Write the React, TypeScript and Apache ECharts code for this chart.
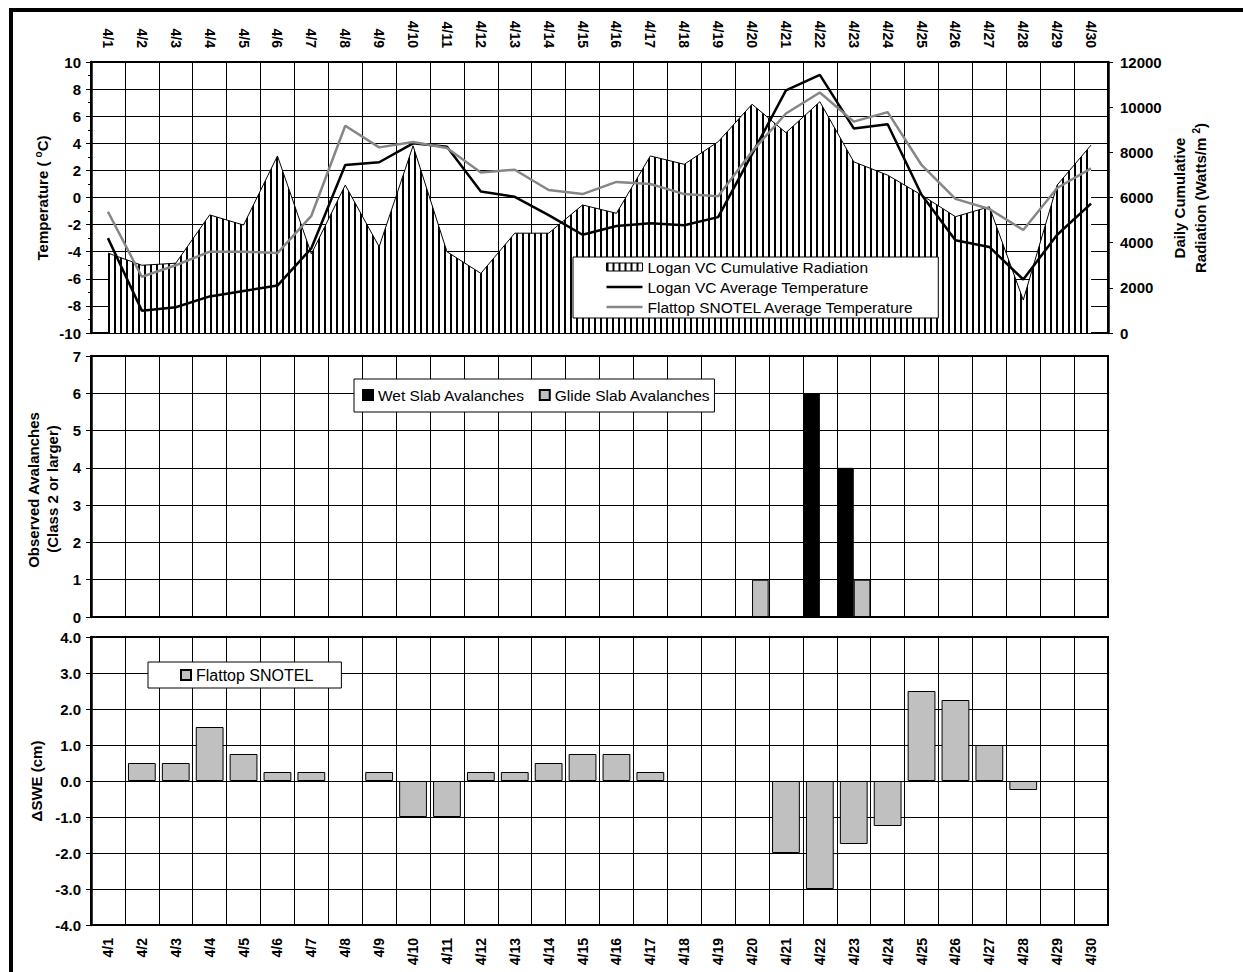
import React, { useEffect, useRef } from "react";
import * as echarts from "echarts";

const days = [
  "4/1", "4/2", "4/3", "4/4", "4/5", "4/6", "4/7", "4/8", "4/9", "4/10",
  "4/11", "4/12", "4/13", "4/14", "4/15", "4/16", "4/17", "4/18", "4/19", "4/20",
  "4/21", "4/22", "4/23", "4/24", "4/25", "4/26", "4/27", "4/28", "4/29", "4/30",
];

// Logan VC cumulative radiation (Watts/m^2), right axis of top panel
const radiation = [
  3540, 3000, 3090, 5230, 4780, 7840, 3500, 6550, 3820, 8290,
  3600, 2640, 4420, 4420, 5670, 5300, 7840, 7470, 8470, 10130,
  8870, 10240, 7580, 6990, 6110, 5150, 5590, 1460, 6550, 8320,
];

// Logan VC average temperature (°C)
const loganTemp = [
  -3.0, -8.35, -8.1, -7.3, -6.9, -6.5, -3.75, 2.4, 2.6, 4.0,
  3.75, 0.45, 0.05, -1.3, -2.75, -2.1, -1.9, -2.05, -1.45, 3.2,
  7.9, 9.05, 5.1, 5.4, 0.2, -3.15, -3.65, -6.05, -2.75, -0.45,
];

// Flattop SNOTEL average temperature (°C)
const flattopTemp = [
  -1.05, -5.85, -5.0, -4.0, -4.0, -4.1, -1.35, 5.3, 3.7, 4.1,
  3.65, 1.85, 2.05, 0.55, 0.25, 1.15, 1.0, 0.25, 0.1, 3.4,
  6.2, 7.75, 5.6, 6.3, 2.4, -0.1, -0.85, -2.4, 0.7, 2.15,
];

// Observed avalanches (class 2 or larger)
const wetSlab = [
  0, 0, 0, 0, 0, 0, 0, 0, 0, 0,
  0, 0, 0, 0, 0, 0, 0, 0, 0, 0,
  0, 6, 4, 0, 0, 0, 0, 0, 0, 0,
];
const glideSlab = [
  0, 0, 0, 0, 0, 0, 0, 0, 0, 0,
  0, 0, 0, 0, 0, 0, 0, 0, 0, 1,
  0, 0, 1, 0, 0, 0, 0, 0, 0, 0,
];

// Flattop SNOTEL ΔSWE (cm)
const deltaSWE = [
  0, 0.5, 0.5, 1.5, 0.75, 0.25, 0.25, 0, 0.25, -1,
  -1, 0.25, 0.25, 0.5, 0.75, 0.75, 0.25, 0, 0, 0,
  -2, -3, -1.75, -1.25, 2.5, 2.25, 1, -0.25, 0, 0,
];

const tempTicks = { min: -10, max: 10, interval: 2 };
const radTicks = { min: 0, max: 12000, interval: 2000 };
const avTicks = { min: 0, max: 7, interval: 1 };
const sweTicks = { min: -4, max: 4, interval: 1 };

const FONT = '"Liberation Sans", Arial, Helvetica, sans-serif';
const LINE_ICON = "path://M0 0H36V2.5H0Z";

function makeHatch(): string {
  const c = document.createElement("canvas");
  c.width = 6;
  c.height = 6;
  const ctx = c.getContext("2d");
  if (ctx) {
    ctx.fillStyle = "#ffffff";
    ctx.fillRect(0, 0, 6, 6);
    ctx.fillStyle = "#000000";
    ctx.fillRect(0, 0, 2, 6);
  }
  return c.toDataURL();
}

export default function App() {
  const ref = useRef<HTMLDivElement>(null);

  useEffect(() => {
    if (!ref.current) return;
    const chart = echarts.init(ref.current, undefined, { renderer: "svg" });
    const hatch = {
      image: makeHatch(),
      repeat: "repeat",
      imageWidth: 6,
      imageHeight: 6,
    };

    const gridBase = {
      left: 91,
      width: 1017,
      show: true,
      borderColor: "#000",
      borderWidth: 2,
      backgroundColor: "transparent",
      containLabel: false,
    };

    const tickLabel = {
      color: "#000",
      fontSize: 15,
      fontWeight: "bold",
      fontFamily: FONT,
    };

    const catAxis = (gridIndex: number, position: string, showLabel: boolean) => ({
      type: "category",
      gridIndex,
      data: days,
      position,
      boundaryGap: true,
      axisLine: { show: false, onZero: false },
      axisTick: { show: false },
      axisLabel: {
        show: showLabel,
        interval: 0,
        rotate: 90,
        margin: position === "top" ? 14 : 13,
        color: "#000",
        fontSize: 14,
        fontWeight: "bold",
        fontFamily: FONT,
      },
      splitLine: { show: true, interval: 0, lineStyle: { color: "#000", width: 1 } },
    });

    const valAxis = (gridIndex: number, t: any, extra: any = {}) => ({
      type: "value",
      gridIndex,
      min: t.min,
      max: t.max,
      interval: t.interval,
      position: "left",
      axisLine: { show: true, onZero: false, lineStyle: { color: "#000", width: 2.5 } },
      axisTick: { show: true, length: 5, lineStyle: { color: "#000", width: 1 } },
      axisLabel: { ...tickLabel, margin: 10 },
      splitLine: { show: true, lineStyle: { color: "#000", width: 1 } },
      ...extra,
    });

    const option: any = {
      animation: false,
      backgroundColor: "#ffffff",
      textStyle: { fontFamily: FONT },
      grid: [
        { ...gridBase, top: 62, height: 271 },
        { ...gridBase, top: 356, height: 261 },
        { ...gridBase, top: 637, height: 288 },
      ],
      xAxis: [catAxis(0, "top", true), catAxis(1, "bottom", false), catAxis(2, "bottom", true)],
      yAxis: [
        valAxis(0, tempTicks, {
          minorTick: { show: true, splitNumber: 2, length: 3, lineStyle: { color: "#000" } },
        }),
        valAxis(0, radTicks, {
          position: "right",
          splitLine: { show: false },
          axisLabel: { ...tickLabel, margin: 12, formatter: (v: number) => String(v) },
        }),
        valAxis(1, avTicks),
        valAxis(2, sweTicks, {
          axisLabel: { ...tickLabel, margin: 10, formatter: (v: number) => v.toFixed(1) },
        }),
      ],
      legend: [
        {
          left: 573,
          top: 257,
          orient: "vertical",
          padding: [2, 24, 3, 33],
          itemGap: 4,
          itemWidth: 36,
          itemHeight: 8,
          symbolKeepAspect: true,
          backgroundColor: "#ffffff",
          borderColor: "#000",
          borderWidth: 1,
          selectedMode: false,
          textStyle: { fontSize: 15.5, color: "#000", fontFamily: FONT },
          data: [
            {
              name: "Logan VC Cumulative Radiation",
              icon: "rect",
              itemStyle: { color: hatch, borderColor: "#000", borderWidth: 1 },
            },
            {
              name: "Logan VC Average Temperature",
              icon: LINE_ICON,
              itemStyle: { color: "#000", borderWidth: 0 },
            },
            {
              name: "Flattop SNOTEL Average Temperature",
              icon: LINE_ICON,
              itemStyle: { color: "#868686", borderWidth: 0 },
            },
          ],
        },
        {
          left: 354,
          top: 379,
          orient: "horizontal",
          padding: [8, 4, 9, 8],
          itemGap: 14,
          itemWidth: 10,
          itemHeight: 10,
          icon: "rect",
          backgroundColor: "#ffffff",
          borderColor: "#000",
          borderWidth: 1,
          selectedMode: false,
          textStyle: { fontSize: 15.5, color: "#000", fontFamily: FONT },
          data: ["Wet Slab Avalanches", "Glide Slab Avalanches"],
        },
        {
          left: 148,
          top: 662,
          orient: "horizontal",
          padding: [5, 28, 5, 32],
          itemWidth: 10,
          itemHeight: 10,
          icon: "rect",
          backgroundColor: "#ffffff",
          borderColor: "#000",
          borderWidth: 1,
          selectedMode: false,
          textStyle: { fontSize: 16, color: "#000", fontFamily: FONT },
          data: ["Flattop SNOTEL"],
        },
      ],
      series: [
        {
          name: "Logan VC Cumulative Radiation",
          type: "line",
          xAxisIndex: 0,
          yAxisIndex: 1,
          data: radiation,
          symbol: "none",
          lineStyle: { color: "#000", width: 1 },
          itemStyle: { color: "#000" },
          areaStyle: { color: hatch, opacity: 1 },
          z: 2,
        },
        {
          name: "Logan VC Average Temperature",
          type: "line",
          xAxisIndex: 0,
          yAxisIndex: 0,
          data: loganTemp,
          symbol: "none",
          lineStyle: { color: "#000", width: 2.5 },
          itemStyle: { color: "#000" },
          z: 3,
        },
        {
          name: "Flattop SNOTEL Average Temperature",
          type: "line",
          xAxisIndex: 0,
          yAxisIndex: 0,
          data: flattopTemp,
          symbol: "none",
          lineStyle: { color: "#868686", width: 2.5 },
          itemStyle: { color: "#868686" },
          z: 3,
        },
        {
          name: "Wet Slab Avalanches",
          type: "bar",
          xAxisIndex: 1,
          yAxisIndex: 2,
          data: wetSlab.map((v) => (v === 0 ? null : v)),
          barGap: "0%",
          barCategoryGap: "2%",
          itemStyle: { color: "#000", borderColor: "#000", borderWidth: 1 },
        },
        {
          name: "Glide Slab Avalanches",
          type: "bar",
          xAxisIndex: 1,
          yAxisIndex: 2,
          data: glideSlab.map((v) => (v === 0 ? null : v)),
          barGap: "0%",
          barCategoryGap: "2%",
          itemStyle: { color: "#c0c0c0", borderColor: "#000", borderWidth: 1 },
        },
        {
          name: "Flattop SNOTEL",
          type: "bar",
          xAxisIndex: 2,
          yAxisIndex: 3,
          data: deltaSWE.map((v) => (v === 0 ? null : v)),
          barCategoryGap: "18%",
          itemStyle: { color: "#c0c0c0", borderColor: "#000", borderWidth: 1 },
        },
      ],
      graphic: [
        {
          type: "rect",
          silent: true,
          z: 100,
          shape: { x: 11, y: 10, width: 1400, height: 1200 },
          style: { fill: "none", stroke: "#000", lineWidth: 4 },
        },
        {
          type: "text",
          x: 42,
          y: 198,
          rotation: Math.PI / 2,
          style: {
            text: "Temperature ( {sup|o}C)",
            fontSize: 15,
            fontWeight: "bold",
            fontFamily: FONT,
            fill: "#000",
            align: "center",
            verticalAlign: "middle",
            lineHeight: 18,
            rich: {
              sup: { fontSize: 10, fontWeight: "bold", fontFamily: FONT, verticalAlign: "top", lineHeight: 18 },
            },
          },
        },
        {
          type: "text",
          x: 1179,
          y: 198,
          rotation: Math.PI / 2,
          style: {
            text: "Daily Cumulative",
            fontSize: 15,
            fontWeight: "bold",
            fontFamily: FONT,
            fill: "#000",
            align: "center",
            verticalAlign: "middle",
          },
        },
        {
          type: "text",
          x: 1200,
          y: 198,
          rotation: Math.PI / 2,
          style: {
            text: "Radiation (Watts/m {sup|2})",
            fontSize: 15,
            fontWeight: "bold",
            fontFamily: FONT,
            fill: "#000",
            align: "center",
            verticalAlign: "middle",
            lineHeight: 18,
            rich: {
              sup: { fontSize: 10, fontWeight: "bold", fontFamily: FONT, verticalAlign: "top", lineHeight: 18 },
            },
          },
        },
        {
          type: "text",
          x: 33,
          y: 490,
          rotation: Math.PI / 2,
          style: {
            text: "Observed Avalanches",
            fontSize: 15,
            fontWeight: "bold",
            fontFamily: FONT,
            fill: "#000",
            align: "center",
            verticalAlign: "middle",
          },
        },
        {
          type: "text",
          x: 52,
          y: 489,
          rotation: Math.PI / 2,
          style: {
            text: "(Class 2 or larger)",
            fontSize: 15,
            fontWeight: "bold",
            fontFamily: FONT,
            fill: "#000",
            align: "center",
            verticalAlign: "middle",
          },
        },
        {
          type: "text",
          x: 36,
          y: 781,
          rotation: Math.PI / 2,
          style: {
            text: "ΔSWE (cm)",
            fontSize: 15,
            fontWeight: "bold",
            fontFamily: FONT,
            fill: "#000",
            align: "center",
            verticalAlign: "middle",
          },
        },
      ],
    };

    chart.setOption(option);
    return () => {
      chart.dispose();
    };
  }, []);

  return (
    <div
      ref={ref}
      style={{ position: "absolute", left: 0, top: 0, width: 1243, height: 972, background: "#fff" }}
    />
  );
}
